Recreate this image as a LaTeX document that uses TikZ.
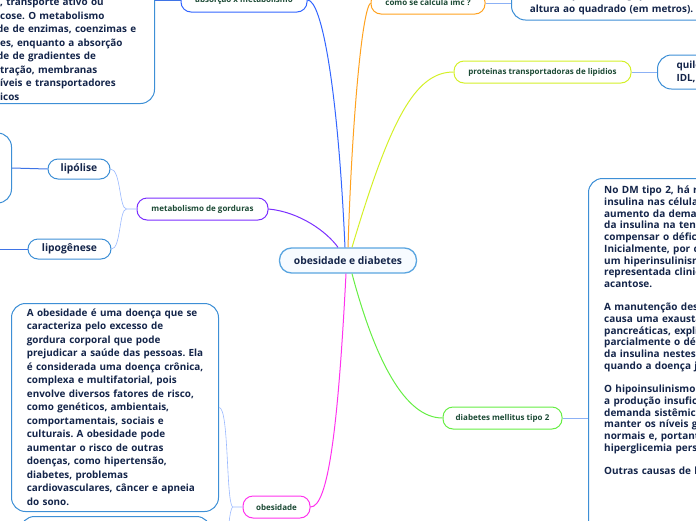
\documentclass[tikz,border=0pt]{standalone}
\usepackage{fontspec}
\setmainfont{Open Sans}
\frenchspacing
\definecolor{navy}{HTML}{14254A}
\definecolor{subgreen}{HTML}{1C4A35}
\definecolor{lblue}{HTML}{3D8FD6}
\definecolor{cblue}{HTML}{5AA5E0}
\definecolor{cfill}{HTML}{F7FBFF}
\definecolor{absblue}{HTML}{3366FF}
\definecolor{imcorange}{HTML}{FFA21F}
\definecolor{limeg}{HTML}{D4F028}
\definecolor{dmgreen}{HTML}{66EE44}
\definecolor{purp}{HTML}{7B2FFF}
\definecolor{magen}{HTML}{FF33EE}
\definecolor{twigblue}{HTML}{99B8FF}
\definecolor{stemdark}{HTML}{3F74E6}
\definecolor{stemlight}{HTML}{8CB1F5}
\begin{document}
\begin{tikzpicture}[x=1pt,y=-1pt,
  txt/.style={text=navy, font=\bfseries\fontsize{9.9}{13.5}\selectfont},
  central/.style={draw=cblue, line width=1.3pt, fill=cfill, rounded corners=12pt, minimum width=137pt, minimum height=25pt, inner sep=0pt, text=navy, font=\bfseries\fontsize{10.3}{12}\selectfont},
  sub/.style={rounded corners=10pt, line width=1pt, fill=white, minimum height=22pt, inner sep=0pt, text=subgreen, font=\bfseries\fontsize{8}{9.5}\selectfont},
  leaf/.style={draw=lblue, line width=1pt, fill=white, rounded corners=10pt, minimum height=20pt, inner sep=0pt, text=navy, font=\bfseries\fontsize{10.3}{12}\selectfont},
  bigbox/.style={draw=lblue, line width=1pt, fill=white, rounded corners=14pt},
  body/.style={txt, align=left, inner sep=0pt, anchor=north west},
  link/.style={line width=1pt},
  twig/.style={draw=twigblue, line width=0.6pt},
  stemd/.style={draw=stemdark, line width=1pt},
  steml/.style={draw=stemlight, line width=1pt}
]
\useasboundingbox (0,0) rectangle (696,520);
\clip (0,0) rectangle (696,520);

% big leaf boxes
\node[bigbox, anchor=south east, minimum width=400pt, minimum height=220pt] (absbox) at (155,104) {};
\node[body, text width=170pt] (abstxt) at (0,-2) {, transporte ativo ou\\
cose. O metabolismo\\
\hspace*{-3pt}de de enzimas, coenzimas e\\
es, enquanto a absorção\\
\hspace*{-3pt}de de gradientes de\\
tração, membranas\\
íveis e transportadores\\
icos};

\node[bigbox, anchor=west, txt, align=center, text width=180pt, minimum height=34pt, inner xsep=10pt, inner ysep=0pt] (imcbox) at (511,3) {o peso (em kg) pela\\altura ao quadrado (em metros).};

\node[bigbox, anchor=west, txt, align=left, text width=120pt, minimum height=34pt, inner xsep=19pt, inner ysep=0pt] (lipbox) at (657,72) {quilomícrons, VLDL,\\IDL, LDL e HDL};

\node[bigbox, anchor=east, minimum width=150pt, minimum height=70pt] (lipolbox) at (12,168) {};
\node[bigbox, anchor=east, minimum width=150pt, minimum height=70pt] (lipogbox) at (-20,249) {};

\node[bigbox, anchor=north west, minimum width=300pt, minimum height=400pt] (dmbox) at (588,178) {};
\node[body, text width=210pt, font=\bfseries\fontsize{10}{11.7}\selectfont] (dmtxt) at (604,186) {No DM tipo 2, há resistência à ação da\\
insulina nas células, o que leva a um\\
aumento da demanda de secreção\\
da insulina na tentativa de\\
compensar o déficit de ação.\\
Inicialmente, por conta disso, ocorre\\
um hiperinsulinismo, que pode ser\\
representada clinicamente pela\\
acantose.\\[11.7pt]
A manutenção desse processo\\
causa uma exaustão das células beta\\
pancreáticas, explicando\\
parcialmente o déficit de produção\\
da insulina nestes pacientes\\
quando a doença já está avançada.\\[11.7pt]
O hipoinsulinismo caracteriza\\
a produção insuficiente frente à\\
demanda sistêmica para\\
manter os níveis glicêmicos\\
normais e, portanto, gera\\
hiperglicemia persistente.\\[11.7pt]
Outras causas de hiperglicemia};

\node[bigbox, anchor=north west, minimum width=207pt, minimum height=208pt] (obbox) at (11,303) {};
\node[body, text width=190pt] (obtxt) at (26.7,308.5) {A obesidade é uma doença que se\\
caracteriza pelo excesso de\\
gordura corporal que pode\\
prejudicar a saúde das pessoas. Ela\\
é considerada uma doença crônica,\\
complexa e multifatorial, pois\\
envolve diversos fatores de risco,\\
como genéticos, ambientais,\\
comportamentais, sociais e\\
culturais. A obesidade pode\\
aumentar o risco de outras\\
doenças, como hipertensão,\\
diabetes, problemas\\
cardiovasculares, câncer e apneia\\
do sono.};

\node[bigbox, anchor=north west, minimum width=190pt, minimum height=150pt] (ob2) at (20,516) {};

% central and subtopics
\node[central] (c) at (348,260.5) {obesidade e diabetes};
\node[sub, draw=absblue, minimum width=126pt, minimum height=24pt] (abs) at (244,0) {absorção x metabolismo};
\node[sub, draw=imcorange, minimum width=114pt] (imc) at (428,3) {como se calcula imc ?};
\node[sub, draw=limeg, minimum width=177pt] (lip) at (542.5,72) {proteinas transportadoras de lipidios};
\node[sub, draw=dmgreen, minimum width=119pt] (dm) at (502.5,418) {diabetes mellitus tipo 2};
\node[sub, draw=purp, minimum width=131pt] (met) at (202.5,209) {metabolismo de gorduras};
\node[sub, draw=magen, minimum width=67pt] (ob) at (276.5,507) {obesidade};

\node[leaf, minimum width=62pt] (lipol) at (79,169) {lipólise};
\node[leaf, minimum width=83pt] (lipog) at (69.5,249) {lipogênese};

% main links
\draw[link, draw=absblue] ([xshift=-3pt]c.north) .. controls (338,90) and (322,0) .. (abs.east);
\draw[link, draw=imcorange] (c.north) .. controls (352,120) and (362,10) .. (imc.west);
\draw[link, draw=limeg] ([xshift=4pt]c.north) .. controls (390,120) and (415,72) .. (lip.west);
\draw[link, draw=purp] (met.east) .. controls (300,212) and (327,232) .. ([xshift=-10pt]c.north);
\draw[link, draw=dmgreen] ([xshift=4pt]c.south) .. controls (375,360) and (405,418) .. (dm.west);
\draw[link, draw=magen] ([xshift=-2pt]c.south) .. controls (338,430) and (328,507) .. (ob.east);

% stems
\draw[stemd] (abs.west) -- (abs.west -| absbox.east);
\draw[steml] (imc.east) -- (imcbox.west);
\draw[steml] (lip.east) -- (lipbox.west);
\draw[steml] (dm.east) -- (dm.east -| dmbox.west);
\draw[stemd] (lipol.west) -- (lipolbox.east);
\draw[stemd] (lipog.west) -- (lipogbox.east);

% twigs
\draw[twig] (met.west) -- ++(-10,0) coordinate (mb) .. controls (119,209) and (121,169) .. (lipol.east);
\draw[twig] (mb) .. controls (119,209) and (121,249) .. (lipog.east);
\draw[twig] (ob.west) -- ++(-10,0) coordinate (obb) .. controls (226,500) and (229,407) .. (obbox.east);
\draw[twig] (obb) .. controls (226,515) and (229,591) .. (ob2.east);
\end{tikzpicture}
\end{document}
